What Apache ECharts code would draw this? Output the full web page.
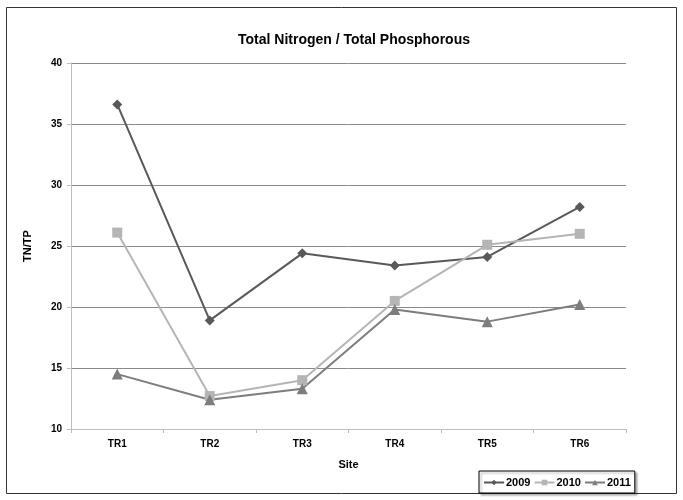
<!DOCTYPE html>
<html>
<head>
<meta charset="utf-8">
<script src="https://cdn.jsdelivr.net/npm/echarts@6/dist/echarts.min.js"></script>
<style>
  html, body { margin: 0; padding: 0; background: #fff; }
  #chart { width: 683px; height: 500px; }
</style>
</head>
<body>
<div id="chart"></div>
<script>
const sites = ['TR1', 'TR2', 'TR3', 'TR4', 'TR5', 'TR6']
const tn2009 = [36.6, 18.9, 24.4, 23.4, 24.1, 28.2]
const tn2010 = [26.1, 12.7, 14.0, 20.5, 25.1, 26.0]
const tn2011 = [14.5, 12.4, 13.3, 19.8, 18.8, 20.2]

const font = 'Liberation Sans'
const chart = echarts.init(document.getElementById('chart'))

chart.setOption({
  animation: false,
  textStyle: { fontFamily: font },
  title: {
    text: 'Total Nitrogen / Total Phosphorous',
    left: 349,
    textAlign: 'center',
    top: 28,
    textStyle: { fontSize: 14, fontWeight: 'bold', color: '#000', fontFamily: font }
  },
  graphic: [{
    type: 'rect',
    shape: { x: 6.5, y: 7.5, width: 670, height: 486 },
    style: { fill: 'none', stroke: '#333', lineWidth: 1 },
    silent: true
  }],
  legend: {
    orient: 'horizontal',
    left: 479,
    top: 471,
    padding: [6, 4, 5, 4],
    itemGap: 3,
    itemWidth: 20,
    itemHeight: 7,
    borderColor: '#000',
    borderWidth: 1,
    shadowColor: 'rgba(0,0,0,0.3)',
    shadowBlur: 2,
    shadowOffsetX: 2,
    shadowOffsetY: 2,
    backgroundColor: '#fff',
    textStyle: { fontSize: 11, fontWeight: 'bold', color: '#000', padding: [0, 0, 0, -3] },
    data: ['2009', '2010', '2011']
  },
  grid: { left: 71, right: 57, top: 63, bottom: 71, containLabel: false },
  xAxis: {
    type: 'category',
    data: sites,
    name: 'Site',
    nameLocation: 'middle',
    nameGap: 30,
    nameTextStyle: { fontSize: 11, fontWeight: 'bold', color: '#000' },
    axisLine: { lineStyle: { color: '#bdbdbd' } },
    axisTick: { show: true, length: 4, lineStyle: { color: '#bdbdbd' } },
    axisLabel: { fontSize: 10, fontWeight: 'bold', color: '#000', margin: 10 }
  },
  yAxis: {
    type: 'value',
    min: 10,
    max: 40,
    interval: 5,
    name: 'TN/TP',
    nameLocation: 'middle',
    nameGap: 38,
    nameTextStyle: { fontSize: 11, fontWeight: 'bold', color: '#000' },
    axisLine: { show: true, lineStyle: { color: '#bdbdbd' } },
    axisTick: { show: true, length: 4, lineStyle: { color: '#bdbdbd' } },
    axisLabel: { fontSize: 10, fontWeight: 'bold', color: '#000', margin: 9 },
    splitLine: { lineStyle: { color: '#8a8a8a' } }
  },
  series: [
    {
      name: '2009', type: 'line', data: tn2009,
      symbol: 'diamond', symbolSize: 10,
      lineStyle: { color: '#595959', width: 2 },
      itemStyle: { color: '#595959' }
    },
    {
      name: '2010', type: 'line', data: tn2010,
      symbol: 'rect', symbolSize: 10,
      lineStyle: { color: '#b5b5b5', width: 2 },
      itemStyle: { color: '#b5b5b5' }
    },
    {
      name: '2011', type: 'line', data: tn2011,
      symbol: 'triangle', symbolSize: 11,
      lineStyle: { color: '#7d7d7d', width: 2 },
      itemStyle: { color: '#7d7d7d' }
    }
  ]
})
</script>
</body>
</html>
